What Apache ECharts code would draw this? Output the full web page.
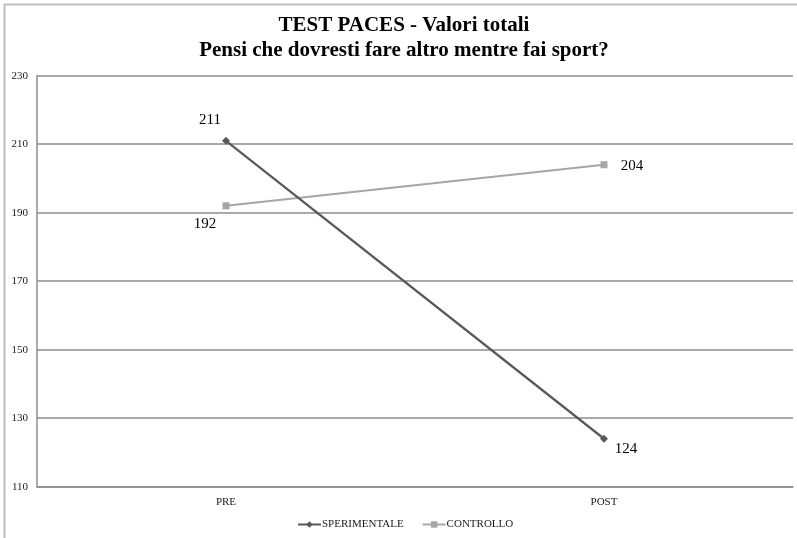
<!DOCTYPE html>
<html>
<head>
<meta charset="utf-8">
<style>
  html, body { margin: 0; padding: 0; background: #ffffff; }
  #chart { width: 797px; height: 538px; }
</style>
<script src="https://cdn.jsdelivr.net/npm/echarts@6/dist/echarts.min.js"></script>
</head>
<body>
<div id="chart"></div>
<script>
// Punteggi totali PACES per gruppo, prima e dopo
const categories = ['PRE', 'POST'];
const sperimentale = [211, 124];
const controllo = [192, 204];
const seriesNames = ['SPERIMENTALE', 'CONTROLLO'];
const titleLines = ['TEST PACES - Valori totali', 'Pensi che dovresti fare altro mentre fai sport?'];
const yTicks = { min: 110, max: 230, step: 20 };

const serif = "'Liberation Serif', 'Times New Roman', serif";

// label offsets around each marker
const spLabelOffsets = [[-16, -21], [22, 10]];
const ctLabelOffsets = [[-21, 18], [28, 1]];

function withLabels(values, offsets) {
  return values.map((v, i) => ({
    value: v,
    label: { show: true, position: 'inside', offset: offsets[i] }
  }));
}

const chart = echarts.init(document.getElementById('chart'), null, { renderer: 'canvas' });

chart.setOption({
  backgroundColor: '#ffffff',
  animation: false,
  title: {
    text: titleLines.join('\n'),
    left: 404,
    top: 13,
    padding: 0,
    textAlign: 'center',
    textStyle: {
      fontFamily: serif,
      fontWeight: 'bold',
      fontSize: 21,
      lineHeight: 25,
      color: '#000000'
    }
  },
  graphic: [{
    type: 'rect',
    shape: { x: 4.5, y: 4.5, width: 820, height: 560 },
    style: { fill: 'none', stroke: '#bdbdbd', lineWidth: 2 },
    silent: true,
    z: -1
  }],
  legend: {
    data: seriesNames,
    left: 292,
    top: 514,
    itemWidth: 23,
    itemHeight: 8,
    itemGap: 18,
    textStyle: {
      fontFamily: serif,
      fontSize: 11,
      color: '#1a1a1a',
      padding: [0, 0, 0, -4]
    }
  },
  grid: {
    left: 37,
    right: 4,
    top: 75.7,
    bottom: 51.3,
    containLabel: false
  },
  xAxis: {
    type: 'category',
    data: categories,
    boundaryGap: true,
    axisLine: { show: true, lineStyle: { color: '#8c8c8c', width: 1.5 } },
    axisTick: { show: false },
    axisLabel: {
      fontFamily: serif,
      fontSize: 11,
      color: '#1a1a1a',
      margin: 10
    },
    splitLine: { show: false }
  },
  yAxis: {
    type: 'value',
    min: yTicks.min,
    max: yTicks.max,
    interval: yTicks.step,
    axisLine: { show: true, lineStyle: { color: '#8c8c8c', width: 1.5 } },
    axisTick: { show: false },
    axisLabel: {
      fontFamily: serif,
      fontSize: 11,
      color: '#1a1a1a',
      margin: 9
    },
    splitLine: { show: true, lineStyle: { color: '#8c8c8c', width: 1.5 } }
  },
  series: [
    {
      name: seriesNames[0],
      type: 'line',
      data: withLabels(sperimentale, spLabelOffsets),
      symbol: 'diamond',
      symbolSize: 8,
      lineStyle: { color: '#595959', width: 2.25 },
      itemStyle: { color: '#595959' },
      label: {
        fontFamily: serif,
        fontSize: 15,
        color: '#000000'
      },
      z: 3
    },
    {
      name: seriesNames[1],
      type: 'line',
      data: withLabels(controllo, ctLabelOffsets),
      symbol: 'rect',
      symbolSize: 7,
      lineStyle: { color: '#a6a6a6', width: 2 },
      itemStyle: { color: '#a6a6a6' },
      label: {
        fontFamily: serif,
        fontSize: 15,
        color: '#000000'
      },
      z: 2
    }
  ]
});
</script>
</body>
</html>
